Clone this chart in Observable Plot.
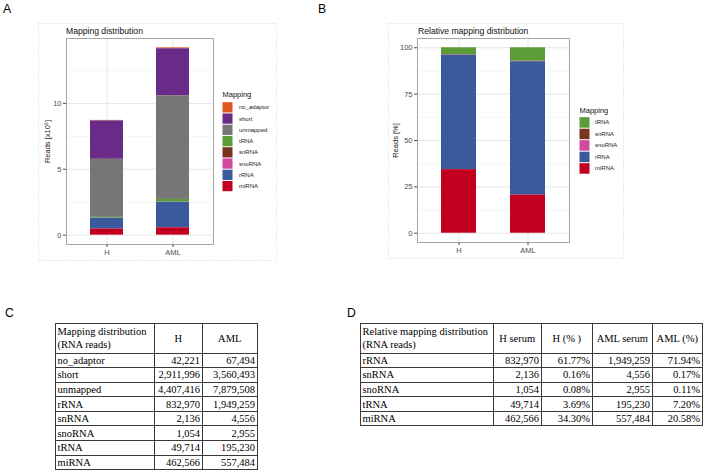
<!DOCTYPE html>
<html>
<head>
<meta charset="utf-8">
<script src="https://cdn.jsdelivr.net/npm/d3@7"></script>
<script src="https://cdn.jsdelivr.net/npm/@observablehq/plot@0.6"></script>
<style>
  html, body { margin: 0; padding: 0; background: #fff; }
  #fig { position: relative; width: 704px; height: 472px; background: #fff; overflow: hidden; }
  #fig > * { position: absolute; }
  table.t { border-collapse: collapse; table-layout: fixed; font-family: "Liberation Serif", "Times New Roman", serif; font-size: 10.5px; color: #000; }
  table.t td { border: 1px solid #3a3a3a; padding: 0 2px 0 1.5px; line-height: 13px; height: 13.6px; white-space: nowrap; overflow: hidden; }
  table.t td.num { text-align: right; }
  table.t tr.hd td { height: 28.5px; }
  table.t tr.hd td.c { text-align: center; }
</style>
</head>
<body>
<div id="fig"></div>
<script>
// ---------------- data ----------------
const groups = ["H", "AML"];
const mappingTypes = ["no_adaptor", "short", "unmapped", "rRNA", "snRNA", "snoRNA", "tRNA", "miRNA"];
const readsH   = [42221, 2911996, 4407416, 832970, 2136, 1054, 49714, 462566];
const readsAML = [67494, 3560493, 7879508, 1949259, 4556, 2955, 195230, 557484];

const relTypes    = ["rRNA", "snRNA", "snoRNA", "tRNA", "miRNA"];
const relReadsH   = [832970, 2136, 1054, 49714, 462566];
const relPctH     = [61.77, 0.16, 0.08, 3.69, 34.30];
const relReadsAML = [1949259, 4556, 2955, 195230, 557484];
const relPctAML   = [71.94, 0.17, 0.11, 7.20, 20.58];

const stackOrderA = ["miRNA", "rRNA", "snoRNA", "snRNA", "tRNA", "unmapped", "short", "no_adaptor"];
const stackOrderB = ["miRNA", "rRNA", "snoRNA", "snRNA", "tRNA"];
const ticksA = [0, 5, 10];
const minorTicksA = [2.5, 7.5, 12.5];
const ticksB = [0, 25, 50, 75, 100];
const minorTicksB = [12.5, 37.5, 62.5, 87.5];

const headerC = ["Mapping distribution|(RNA reads)", "H", "AML"];
const headerD = ["Relative mapping distribution|(RNA reads)", "H serum", "H (% )", "AML serum", "AML (%)"];

// palette (scale range)
const palette = {
  no_adaptor: "#E2541F", short: "#6A2A88", unmapped: "#767676", tRNA: "#5B9C36",
  snRNA: "#7A3520", snoRNA: "#D449A0", rRNA: "#3B5A9E", miRNA: "#C0001E"
};

// ---------------- helpers ----------------
const fig = document.getElementById("fig");
const fmt = d3.format(",");
const SANS = "Liberation Sans, Arial, sans-serif";

function place(el, left, top) { el.style.left = left + "px"; el.style.top = top + "px"; fig.appendChild(el); return el; }

// ---------------- chart A ----------------
const dataA = [];
groups.forEach((g, gi) => mappingTypes.forEach((t, ti) => dataA.push({group: g, type: t, value: (gi ? readsAML : readsH)[ti] / 1e6})));
const maxA = d3.max(groups, g => d3.sum(dataA.filter(d => d.group === g), d => d.value));

const chartA = Plot.plot({
  width: 238, height: 238,
  marginTop: 15, marginLeft: 28, marginRight: 63, marginBottom: 17,
  style: {background: "transparent", fontFamily: SANS, overflow: "visible"},
  x: {domain: groups, paddingInner: 0.5, paddingOuter: 0.35, axis: null},
  y: {domain: [-0.05 * maxA, 1.05 * maxA], axis: null},
  color: {domain: stackOrderA, range: stackOrderA.map(t => palette[t])},
  marks: [
    Plot.gridY(minorTicksA, {stroke: "#f1f1f1", strokeOpacity: 1, strokeWidth: 0.7}),
    Plot.gridY(ticksA, {stroke: "#e6e6e6", strokeOpacity: 1, strokeWidth: 1}),
    Plot.gridX({stroke: "#e6e6e6", strokeOpacity: 1, strokeWidth: 1}),
    Plot.barY(dataA, {x: "group", y: "value", fill: "type", order: stackOrderA}),
    Plot.frame({stroke: "#a6a6a6"}),
    Plot.axisY(ticksA, {tickSize: 3, tickPadding: 2, fontSize: 7.5, color: "#4d4d4d", label: null}),
    Plot.axisX({tickSize: 3, tickPadding: 2, fontSize: 7.5, color: "#4d4d4d", label: null}),
    Plot.text(["Reads [x10⁶]"], {frameAnchor: "left", dx: -19, rotate: -90, textAnchor: "middle", fontSize: 7.5, fill: "#1a1a1a"})
  ]
});
place(chartA, 38, 23);

// ---------------- chart B ----------------
const dataB = [];
groups.forEach((g, gi) => relTypes.forEach((t, ti) => dataB.push({group: g, type: t, value: (gi ? relPctAML : relPctH)[ti]})));
const maxB = d3.max(groups, g => d3.sum(dataB.filter(d => d.group === g), d => d.value));

const chartB = Plot.plot({
  width: 235, height: 236,
  marginTop: 15, marginLeft: 29, marginRight: 54, marginBottom: 17,
  style: {background: "transparent", fontFamily: SANS, overflow: "visible"},
  x: {domain: groups, paddingInner: 0.5, paddingOuter: 0.35, axis: null},
  y: {domain: [-0.05 * maxB, 1.05 * maxB], axis: null},
  color: {domain: stackOrderB, range: stackOrderB.map(t => palette[t])},
  marks: [
    Plot.gridY(minorTicksB, {stroke: "#f1f1f1", strokeOpacity: 1, strokeWidth: 0.7}),
    Plot.gridY(ticksB, {stroke: "#e6e6e6", strokeOpacity: 1, strokeWidth: 1}),
    Plot.gridX({stroke: "#e6e6e6", strokeOpacity: 1, strokeWidth: 1}),
    Plot.barY(dataB, {x: "group", y: "value", fill: "type", order: stackOrderB}),
    Plot.frame({stroke: "#a6a6a6"}),
    Plot.axisY(ticksB, {tickSize: 3, tickPadding: 2, fontSize: 7.5, color: "#4d4d4d", label: null}),
    Plot.axisX({tickSize: 3, tickPadding: 2, fontSize: 7.5, color: "#4d4d4d", label: null}),
    Plot.text(["Reads [%]"], {frameAnchor: "left", dx: -22, rotate: -90, textAnchor: "middle", fontSize: 7.5, fill: "#1a1a1a"})
  ]
});
place(chartB, 388, 23);

// ---------------- overlay (panel letters, titles, legends, outer boxes) ----------------
const NS = "http://www.w3.org/2000/svg";
const ov = document.createElementNS(NS, "svg");
ov.setAttribute("width", 704); ov.setAttribute("height", 472);
ov.style.pointerEvents = "none";
function svgEl(tag, attrs, text) {
  const e = document.createElementNS(NS, tag);
  for (const k in attrs) e.setAttribute(k, attrs[k]);
  if (text != null) e.textContent = text;
  ov.appendChild(e); return e;
}
function txt(x, y, s, size, fill, family) {
  return svgEl("text", {x, y, "font-size": size, fill: fill || "#000", "font-family": family || SANS}, s);
}
// outer (plot background) boxes
svgEl("rect", {x: 38.5, y: 23.5, width: 238, height: 237, fill: "none", stroke: "#e2e2e2", "stroke-dasharray": "1.5,1.5"});
svgEl("rect", {x: 388.5, y: 23.5, width: 235, height: 235, fill: "none", stroke: "#e2e2e2", "stroke-dasharray": "1.5,1.5"});
// panel letters
txt(3, 12.8, "A", 12.2); txt(318, 12.8, "B", 12.2);
txt(5, 317, "C", 12.2); txt(347, 317, "D", 12.2);
// titles
txt(66, 33.5, "Mapping distribution", 8.6, "#111");
txt(418, 33.5, "Relative mapping distribution", 8.6, "#111");
// legends
function legend(x, titleY, keyTop, step, labelX, order) {
  txt(x, titleY, "Mapping", 7.5, "#111");
  order.forEach((t, i) => {
    const y = keyTop + i * step;
    svgEl("rect", {x: x, y: y + 0.5, width: 10, height: step - 1, fill: palette[t]});
    txt(labelX, y + step / 2 + 2, t, 6, "#222");
  });
}
legend(222.5, 97.3, 101.7, 11.25, 239, stackOrderA.slice().reverse());
legend(579.5, 113, 116.7, 11.5, 595, stackOrderB.slice().reverse());
fig.appendChild(ov);
ov.style.left = "0px"; ov.style.top = "0px";

// ---------------- tables ----------------
function makeTable(left, top, widths, header, rows) {
  const t = document.createElement("table");
  t.className = "t";
  t.style.width = d3.sum(widths) + "px";
  const cg = document.createElement("colgroup");
  widths.forEach(w => { const c = document.createElement("col"); c.style.width = w + "px"; cg.appendChild(c); });
  t.appendChild(cg);
  const hr = document.createElement("tr"); hr.className = "hd";
  header.forEach((h, i) => {
    const td = document.createElement("td");
    if (i > 0) td.className = "c";
    h.split("|").forEach((line, li) => { if (li) td.appendChild(document.createElement("br")); td.appendChild(document.createTextNode(line)); });
    hr.appendChild(td);
  });
  t.appendChild(hr);
  rows.forEach(r => {
    const tr = document.createElement("tr");
    r.forEach((v, i) => { const td = document.createElement("td"); if (i > 0) td.className = "num"; td.textContent = v; tr.appendChild(td); });
    t.appendChild(tr);
  });
  return place(t, left, top);
}
makeTable(55, 323, [99, 48, 55], headerC,
  mappingTypes.map((t, i) => [t, fmt(readsH[i]), fmt(readsAML[i])]));
makeTable(360, 323, [133, 48, 51, 60, 50], headerD,
  relTypes.map((t, i) => [t, fmt(relReadsH[i]), relPctH[i].toFixed(2) + "%", fmt(relReadsAML[i]), relPctAML[i].toFixed(2) + "%"]));
</script>
</body>
</html>
